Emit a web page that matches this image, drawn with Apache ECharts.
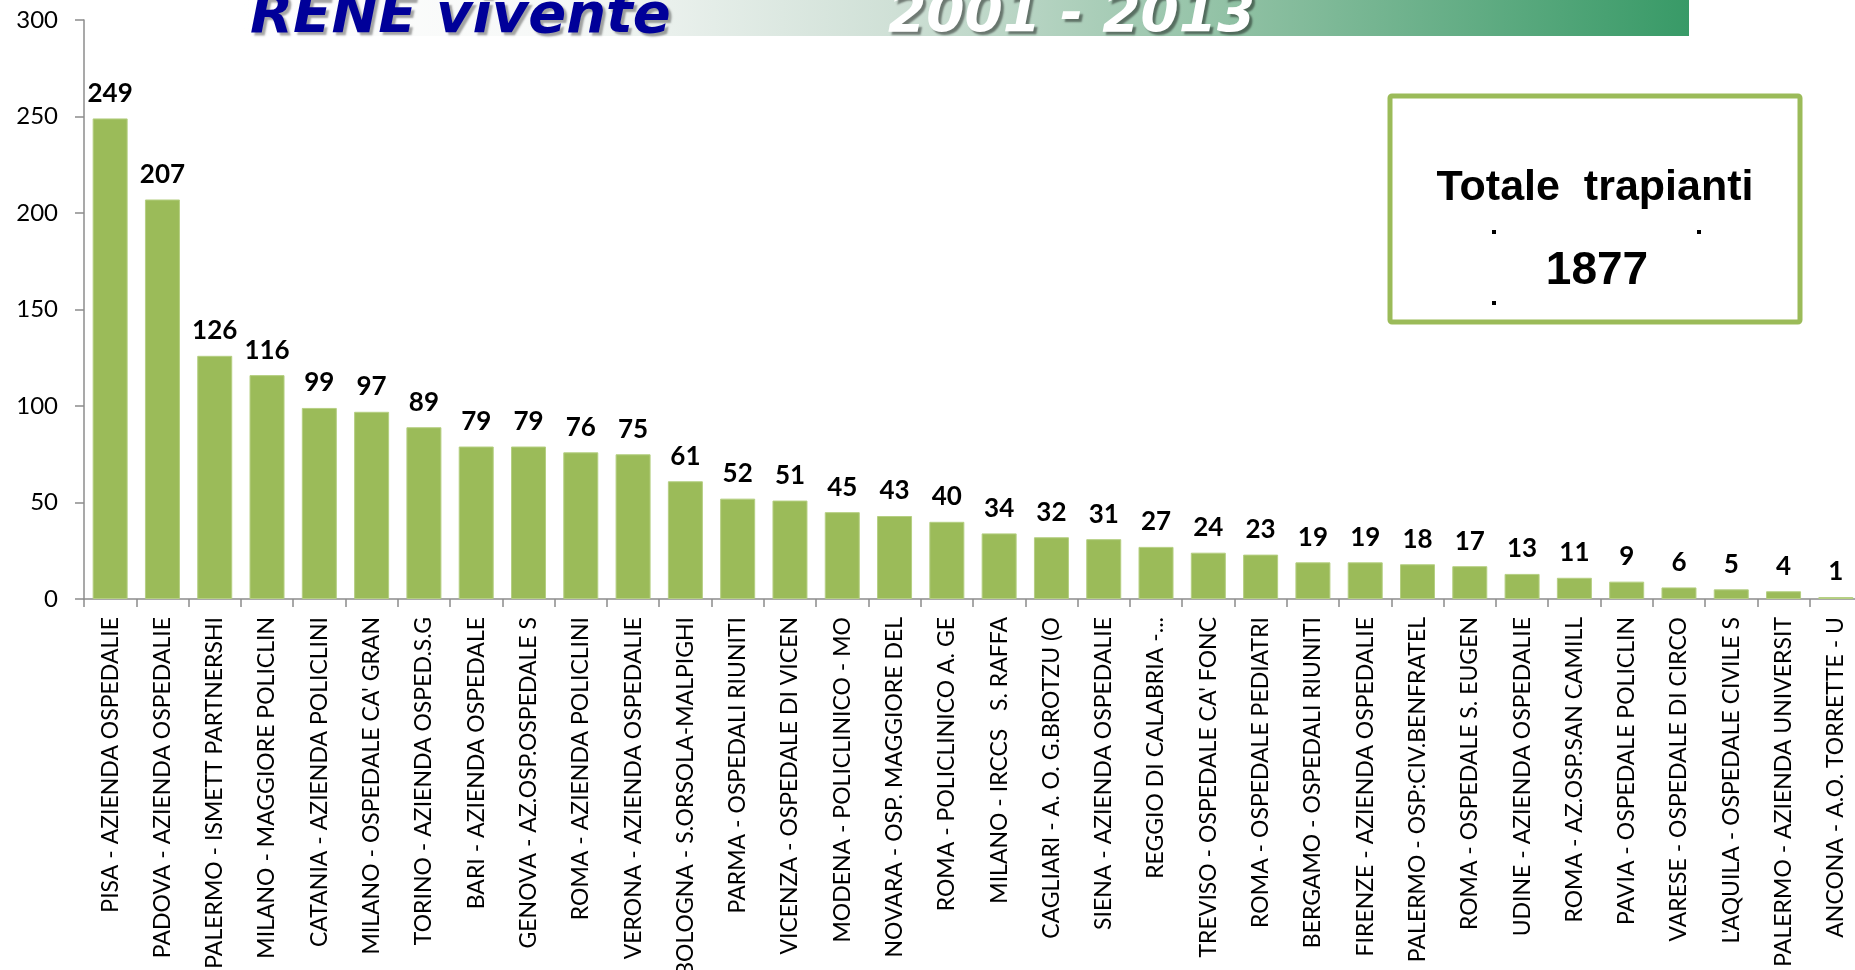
<!DOCTYPE html>
<html>
<head>
<meta charset="utf-8">
<title>RENE vivente 2001 - 2013</title>
<script src="https://cdn.jsdelivr.net/npm/echarts@6/dist/echarts.min.js"></script>
<style>
    html, body { margin: 0; padding: 0; background: #fff; }
    #chart { width: 1855px; height: 970px; }
</style>
</head>
<body>
<div id="chart"></div>
<script>
var centri = [
    'PISA - AZIENDA OSPEDALIE',
    'PADOVA - AZIENDA OSPEDALIE',
    'PALERMO - ISMETT PARTNERSHI',
    'MILANO - MAGGIORE POLICLIN',
    'CATANIA - AZIENDA POLICLINI',
    "MILANO - OSPEDALE CA' GRAN",
    'TORINO - AZIENDA OSPED.S.G',
    'BARI - AZIENDA OSPEDALE',
    'GENOVA - AZ.OSP.OSPEDALE S',
    'ROMA - AZIENDA POLICLINI',
    'VERONA - AZIENDA OSPEDALIE',
    'BOLOGNA - S.ORSOLA-MALPIGHI',
    'PARMA - OSPEDALI RIUNITI',
    'VICENZA - OSPEDALE DI VICEN',
    'MODENA - POLICLINICO - MO',
    'NOVARA - OSP. MAGGIORE DEL',
    'ROMA - POLICLINICO A. GE',
    'MILANO - IRCCS   S. RAFFA',
    'CAGLIARI - A. O. G.BROTZU (O',
    'SIENA - AZIENDA OSPEDALIE',
    'REGGIO DI CALABRIA -...',
    "TREVISO - OSPEDALE CA' FONC",
    'ROMA - OSPEDALE PEDIATRI',
    'BERGAMO - OSPEDALI RIUNITI',
    'FIRENZE - AZIENDA OSPEDALIE',
    'PALERMO - OSP:CIV.BENFRATEL',
    'ROMA - OSPEDALE S. EUGEN',
    'UDINE - AZIENDA OSPEDALIE',
    'ROMA - AZ.OSP.SAN CAMILL',
    'PAVIA - OSPEDALE POLICLIN',
    'VARESE - OSPEDALE DI CIRCO',
    "L'AQUILA - OSPEDALE CIVILE S",
    'PALERMO - AZIENDA UNIVERSIT',
    'ANCONA - A.O. TORRETTE - U'
];
var trapianti = [249, 207, 126, 116, 99, 97, 89, 79, 79, 76, 75, 61, 52, 51, 45, 43,
    40, 34, 32, 31, 27, 24, 23, 19, 19, 18, 17, 13, 11, 9, 6, 5, 4, 1];
var yTicks = [0, 50, 100, 150, 200, 250, 300];

var titolo = 'RENE vivente';
var periodo = '2001 - 2013';
var boxTitolo = 'Totale  trapianti';
var totale = trapianti.reduce(function (a, b) { return a + b; }, 0);

var myChart = echarts.init(document.getElementById('chart'));

var option = {
    backgroundColor: '#ffffff',
    animation: false,
    grid: {
        left: 84,
        right: -7,
        top: 20,
        bottom: 371,
        containLabel: false,
        outerBoundsMode: 'none'
    },
    xAxis: {
        type: 'category',
        data: centri,
        axisLine: { lineStyle: { color: '#8c8c8c', width: 1.5 } },
        axisTick: { show: true, interval: 0, length: 8, lineStyle: { color: '#8c8c8c', width: 1.5 } },
        axisLabel: {
            interval: 0,
            rotate: 90,
            margin: 18,
            color: '#000',
            fontFamily: 'Lato',
            fontSize: 23
        }
    },
    yAxis: {
        type: 'value',
        min: yTicks[0],
        max: yTicks[yTicks.length - 1],
        interval: yTicks[1] - yTicks[0],
        splitLine: { show: false },
        axisLine: { show: true, lineStyle: { color: '#8c8c8c', width: 1.5 } },
        axisTick: { show: true, length: 9, lineStyle: { color: '#8c8c8c', width: 1.5 } },
        axisLabel: {
            margin: 26,
            color: '#000',
            fontFamily: 'Lato',
            fontSize: 24
        }
    },
    series: [{
        type: 'bar',
        data: trapianti,
        barWidth: 35,
        itemStyle: { color: '#9bbb59', borderColor: '#b5cf82', borderWidth: 1 },
        label: {
            show: true,
            position: 'top',
            distance: 12,
            color: '#000',
            fontFamily: 'Lato',
            fontWeight: 'bold',
            fontSize: 26
        }
    }],
    graphic: [
        {
            type: 'rect',
            shape: { x: 243, y: 0, width: 1446, height: 36 },
            style: {
                fill: new echarts.graphic.LinearGradient(0, 0, 1, 0, [
                    { offset: 0, color: '#ffffff' },
                    { offset: 0.22, color: '#f6f8f7' },
                    { offset: 0.45, color: '#cfe0d6' },
                    { offset: 0.7, color: '#8cbfa1' },
                    { offset: 1, color: '#389a67' }
                ])
            },
            z: 1
        },
        {
            type: 'text',
            x: 250,
            y: 45,
            style: {
                text: titolo,
                fill: '#000099',
                font: 'italic bold 56px "DejaVu Sans"',
                textVerticalAlign: 'bottom',
                textShadowColor: 'rgba(0,0,0,0.35)',
                textShadowOffsetX: 3,
                textShadowOffsetY: 3,
                textShadowBlur: 2
            },
            z: 2
        },
        {
            type: 'text',
            x: 888,
            y: 44,
            style: {
                text: periodo,
                fill: '#ffffff',
                font: 'italic bold 55px "DejaVu Sans"',
                textVerticalAlign: 'bottom',
                textShadowColor: 'rgba(0,0,0,0.45)',
                textShadowOffsetX: 3,
                textShadowOffsetY: 3,
                textShadowBlur: 2
            },
            z: 2
        },
        {
            type: 'rect',
            shape: { x: 1390, y: 96, width: 410, height: 226, r: 2 },
            style: { fill: '#ffffff', stroke: '#9bbb59', lineWidth: 5 },
            z: 5
        },
        {
            type: 'text',
            x: 1595,
            y: 188,
            style: {
                text: boxTitolo,
                fill: '#000',
                font: 'bold 43px "Liberation Sans"',
                textAlign: 'center',
                textVerticalAlign: 'middle'
            },
            z: 6
        },
        {
            type: 'text',
            x: 1597,
            y: 271,
            style: {
                text: String(totale),
                fill: '#000',
                font: 'bold 46px "Liberation Sans"',
                textAlign: 'center',
                textVerticalAlign: 'middle'
            },
            z: 6
        },
        { type: 'rect', shape: { x: 1492, y: 230, width: 4, height: 4 }, style: { fill: '#000' }, z: 6 },
        { type: 'rect', shape: { x: 1697, y: 230, width: 4, height: 4 }, style: { fill: '#000' }, z: 6 },
        { type: 'rect', shape: { x: 1492, y: 301, width: 4, height: 4 }, style: { fill: '#000' }, z: 6 }
    ]
};

myChart.setOption(option);
</script>
</body>
</html>
